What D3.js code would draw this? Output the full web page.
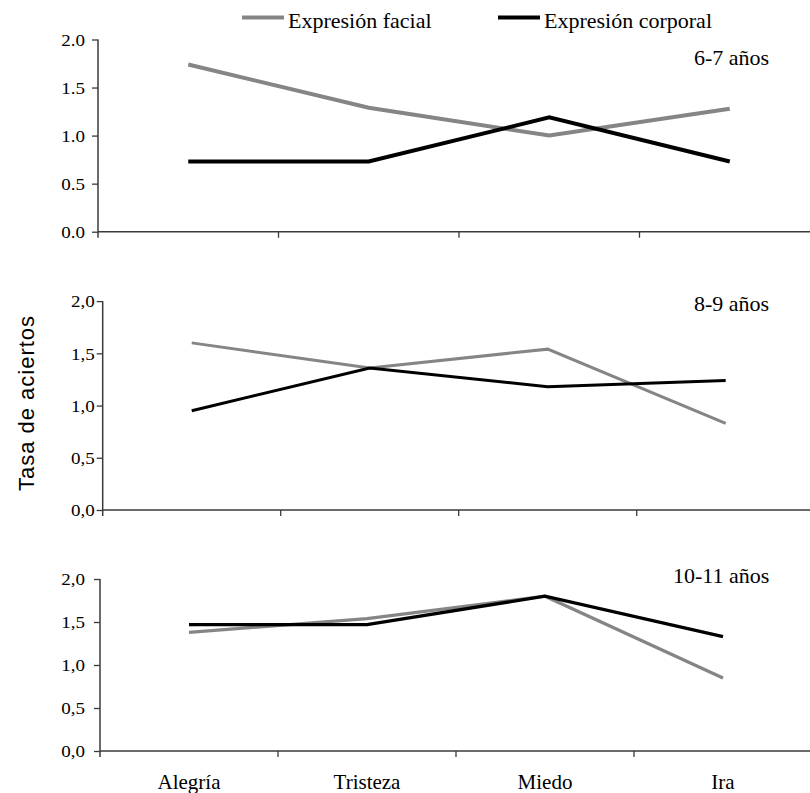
<!DOCTYPE html>
<html>
<head>
<meta charset="utf-8">
<script src="https://cdn.jsdelivr.net/npm/d3@7"></script>
<style>
  html, body { margin: 0; padding: 0; background: #fff; }
  svg { display: block; }
</style>
</head>
<body>
<svg id="chart"></svg>
<script>
// Data
const categories = ['Alegría', 'Tristeza', 'Miedo', 'Ira'];
const ageGroups = ['6-7 años', '8-9 años', '10-11 años'];
const seriesNames = ['Expresión facial', 'Expresión corporal'];
const facial67 = [1.74, 1.29, 1.00, 1.28];
const corporal67 = [0.73, 0.73, 1.19, 0.73];
const facial89 = [1.60, 1.36, 1.54, 0.83];
const corporal89 = [0.95, 1.36, 1.18, 1.24];
const facial1011 = [1.38, 1.54, 1.80, 0.85];
const corporal1011 = [1.47, 1.47, 1.80, 1.33];
const yTicks = [0, 0.5, 1, 1.5, 2];

const WIDTH = 810;
const HEIGHT = 793;
const GRAY = '#858585';
const AXIS = '#3a3a3a';
const SERIF = '"Liberation Serif", "Times New Roman", serif';
const TICK_STRETCH = 1.12;

// each panel was pasted at a slightly different size
const panels = [
  { label: ageGroups[0], facial: facial67, corporal: corporal67, x0: 98, x1: 820, top: 39.5, bottom: 231.7, lw: 4, dec: '.', lab: { x: 694, y: 65 }, tickGap: 13 },
  { label: ageGroups[1], facial: facial89, corporal: corporal89, x0: 102.7, x1: 814.7, top: 301.1, bottom: 510, lw: 3, dec: ',', lab: { x: 694, y: 311 }, tickGap: 8 },
  { label: ageGroups[2], facial: facial1011, corporal: corporal1011, x0: 100, x1: 812, top: 579, bottom: 751, lw: 3.3, dec: ',', lab: { x: 673, y: 583 }, tickGap: 15 }
];

const svg = d3.select('#chart')
  .attr('width', WIDTH)
  .attr('height', HEIGHT)
  .attr('viewBox', `0 0 ${WIDTH} ${HEIGHT}`);

panels.forEach((p, i) => {
  const g = svg.append('g');

  const x = d3.scaleBand().domain(categories).range([p.x0, p.x1]);
  const y = d3.scaleLinear().domain([0, 2]).range([p.bottom, p.top]);

  // Y axis
  const yAxis = g.append('g')
    .attr('transform', `translate(${p.x0},0)`)
    .call(d3.axisLeft(y)
      .tickValues(yTicks)
      .tickSize(6)
      .tickFormat(d => d3.format('.1f')(d).replace('.', p.dec)));
  yAxis.select('.domain').remove();
  yAxis.append('line')
    .attr('y1', p.top).attr('y2', p.bottom + 6)
    .attr('stroke', AXIS).attr('stroke-width', 1.5);
  yAxis.selectAll('.tick line').attr('stroke', AXIS).attr('stroke-width', 1.3);
  yAxis.selectAll('.tick text')
    .attr('fill', '#000')
    .attr('font-family', SERIF)
    .attr('font-size', '17px')
    .attr('dy', '0.34em')
    .attr('transform', `scale(${TICK_STRETCH},1)`)
    .attr('x', -p.tickGap / TICK_STRETCH);

  // X axis (ticks at category boundaries)
  const bounds = d3.range(categories.length + 1).map(k => p.x0 + k * x.step());
  g.append('line')
    .attr('x1', p.x0).attr('x2', p.x1)
    .attr('y1', p.bottom).attr('y2', p.bottom)
    .attr('stroke', AXIS).attr('stroke-width', 1.5);
  g.selectAll('.xtick')
    .data(bounds.slice(1))
    .enter().append('line')
    .attr('x1', d => d).attr('x2', d => d)
    .attr('y1', p.bottom).attr('y2', p.bottom + 6)
    .attr('stroke', AXIS).attr('stroke-width', 1.3);

  // Lines
  const line = d3.line()
    .x((d, k) => x(categories[k]) + x.bandwidth() / 2)
    .y(d => y(d));

  g.append('path')
    .attr('d', line(p.facial))
    .attr('fill', 'none')
    .attr('stroke', GRAY)
    .attr('stroke-width', p.lw);

  g.append('path')
    .attr('d', line(p.corporal))
    .attr('fill', 'none')
    .attr('stroke', '#000')
    .attr('stroke-width', p.lw);

  // Panel label
  g.append('text')
    .attr('x', p.lab.x)
    .attr('y', p.lab.y)
    .attr('font-family', SERIF)
    .attr('font-size', '22px')
    .text(p.label);

  // Category labels only under the last panel
  if (i === panels.length - 1) {
    g.selectAll('.cat')
      .data(categories)
      .enter().append('text')
      .attr('x', d => x(d) + x.bandwidth() / 2)
      .attr('y', 789)
      .attr('text-anchor', 'middle')
      .attr('font-family', SERIF)
      .attr('font-size', '21px')
      .text(d => d);
  }
});

// Legend
const legend = svg.append('g');
const legendItems = [
  { name: seriesNames[0], color: GRAY, x: 242 },
  { name: seriesNames[1], color: '#000', x: 498 }
];
legendItems.forEach(it => {
  legend.append('line')
    .attr('x1', it.x).attr('x2', it.x + 42)
    .attr('y1', 17.5).attr('y2', 17.5)
    .attr('stroke', it.color)
    .attr('stroke-width', 4);
  legend.append('text')
    .attr('x', it.x + 46)
    .attr('y', 27.5)
    .attr('font-family', SERIF)
    .attr('font-size', '22px')
    .text(it.name);
});

// Y title
svg.append('text')
  .attr('transform', 'translate(34,403) rotate(-90)')
  .attr('text-anchor', 'middle')
  .attr('font-family', '"Liberation Sans", Arial, sans-serif')
  .attr('font-size', '22px')
  .attr('letter-spacing', '1px')
  .text('Tasa de aciertos');
</script>
</body>
</html>
